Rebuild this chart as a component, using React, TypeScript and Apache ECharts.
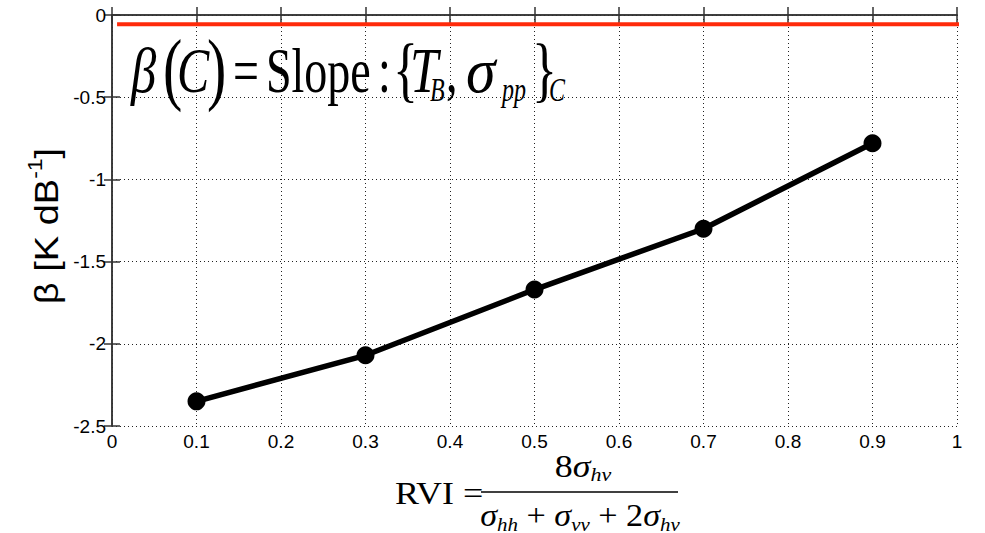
import React, { useEffect, useRef } from 'react';
import * as echarts from 'echarts';

// Data
const rviValues = [0.1, 0.3, 0.5, 0.7, 0.9];
const betaValues = [-2.35, -2.07, -1.67, -1.3, -0.78];
const referenceLineX = [0.006, 1.04];
const referenceLineY = [-0.057, -0.057];

const SANS = 'Liberation Sans, Arial, sans-serif';
const SERIF = 'Liberation Serif, Times New Roman, serif';

function piece(x: number, y: number, text: string, size: number, italic: boolean, scaleY: number, scaleX = 1): any {
  return {
    type: 'text',
    x,
    y,
    scaleX,
    scaleY,
    z: 10,
    style: {
      text,
      fontFamily: SERIF,
      fontStyle: italic ? 'italic' : 'normal',
      fontSize: size,
      fill: '#000',
      align: 'left',
      verticalAlign: 'middle',
    },
  };
}

export default function App() {
  const ref = useRef<HTMLDivElement>(null);

  useEffect(() => {
    document.body.style.margin = '0';
    const chart = echarts.init(ref.current!, null, { renderer: 'svg' });

    // Top formula: beta(C) = Slope : {T_B, sigma_pp}_C
    const ty = 70;
    const sy = 1.4;
    const subY = ty + 19;
    const topFormula = [
      piece(131, ty, 'β', 46, true, sy, 1.1),
      piece(163, 67, '(', 58, false, sy),
      piece(177, ty, 'C', 46, true, sy, 1.05),
      piece(207, 67, ')', 58, false, sy),
      piece(233, ty, '=', 46, false, sy),
      piece(266, ty, 'Slope', 46, false, sy),
      piece(378, ty, ':', 46, false, sy),
      piece(393, 69, '{', 52, false, sy),
      piece(410, ty, 'T', 46, true, sy, 1.1),
      piece(430, subY, 'B', 24, true, sy),
      piece(446, ty, ',', 46, false, sy),
      piece(466, ty, 'σ', 46, true, sy, 1.3),
      piece(502, subY, 'pp', 24, true, sy),
      piece(532, 69, '}', 52, false, sy),
      piece(549, subY, 'C', 24, true, sy),
    ];

    const fracSize = 36;
    const fsy = 0.85;
    const fracRich: any = {
      i: { fontFamily: SERIF, fontStyle: 'italic', fontSize: fracSize, lineHeight: 40, verticalAlign: 'middle', color: '#000' },
      n: { fontFamily: SERIF, fontSize: fracSize, lineHeight: 40, verticalAlign: 'middle', color: '#000' },
      s: { fontFamily: SERIF, fontStyle: 'italic', fontSize: 22, lineHeight: 22, padding: [20, 0, 0, 0], verticalAlign: 'middle', color: '#000' },
    };

    const axisCommon = {
      axisLine: { show: true, lineStyle: { color: '#333', width: 1.5 } },
      axisTick: { show: true, inside: true, length: 8, lineStyle: { color: '#333', width: 1.5 } },
    };

    const option: any = {
      animation: false,
      backgroundColor: '#fff',
      grid: { left: 112, right: 28, top: 15, bottom: 107, containLabel: false },
      xAxis: [
        {
          type: 'value',
          min: 0,
          max: 1,
          interval: 0.1,
          position: 'bottom',
          ...axisCommon,
          axisLabel: { color: '#000', fontFamily: SANS, fontSize: 19, margin: 6 },
          splitLine: { show: true, lineStyle: { color: '#222', type: [1, 3], width: 1 } },
        },
        {
          type: 'value',
          min: 0,
          max: 1,
          interval: 0.1,
          position: 'top',
          ...axisCommon,
          axisLabel: { show: false },
          splitLine: { show: false },
        },
      ],
      yAxis: [
        {
          type: 'value',
          min: -2.5,
          max: 0,
          interval: 0.5,
          position: 'left',
          ...axisCommon,
          axisLabel: { color: '#000', fontFamily: SANS, fontSize: 19, margin: 6 },
          splitLine: { show: true, lineStyle: { color: '#222', type: [1, 3], width: 1 } },
        },
        {
          type: 'value',
          min: -2.5,
          max: 0,
          interval: 0.5,
          position: 'right',
          ...axisCommon,
          axisLabel: { show: false },
          splitLine: { show: false },
        },
      ],
      series: [
        {
          type: 'line',
          name: 'beta',
          xAxisIndex: 0,
          yAxisIndex: 0,
          data: rviValues.map((x, i) => [x, betaValues[i]]),
          lineStyle: { color: '#000', width: 5.5 },
          itemStyle: { color: '#000' },
          symbol: 'circle',
          symbolSize: 18,
          z: 3,
        },
        {
          type: 'line',
          name: 'reference',
          xAxisIndex: 0,
          yAxisIndex: 0,
          data: referenceLineX.map((x, i) => [x, referenceLineY[i]]),
          lineStyle: { color: '#ff2a0a', width: 4 },
          symbol: 'none',
          clip: false,
          z: 4,
        },
      ],
      graphic: [
        ...topFormula,
        {
          type: 'text',
          x: 47,
          y: 226,
          rotation: Math.PI / 2,
          scaleY: 0.88,
          z: 10,
          style: {
            text: '{n|β [K dB}{sup|-1}{n|]}',
            align: 'center',
            verticalAlign: 'middle',
            rich: {
              n: { fontFamily: SANS, fontSize: 38, lineHeight: 44, verticalAlign: 'middle', color: '#000' },
              sup: { fontFamily: SANS, fontSize: 23, lineHeight: 23, padding: [0, 0, 28, 0], verticalAlign: 'middle', color: '#000' },
            },
          },
        },
        {
          type: 'text',
          x: 395,
          y: 493,
          scaleY: fsy,
          z: 10,
          style: {
            text: 'RVI =',
            fontFamily: SERIF,
            fontSize: fracSize,
            fill: '#000',
            align: 'left',
            verticalAlign: 'middle',
          },
        },
        {
          type: 'line',
          z: 10,
          shape: { x1: 481, y1: 492, x2: 678, y2: 492 },
          style: { stroke: '#000', lineWidth: 1.5 },
        },
        {
          type: 'text',
          x: 583,
          y: 466,
          scaleY: fsy,
          z: 10,
          style: {
            text: '{n|8}{i|σ}{s|hv}',
            rich: fracRich,
            align: 'center',
            verticalAlign: 'middle',
          },
        },
        {
          type: 'text',
          x: 580,
          y: 516,
          scaleX: 0.95,
          scaleY: fsy,
          z: 10,
          style: {
            text: '{i|σ}{s|hh}{n| + }{i|σ}{s|vv}{n| + 2}{i|σ}{s|hv}',
            rich: fracRich,
            align: 'center',
            verticalAlign: 'middle',
          },
        },
      ],
    };

    chart.setOption(option);
    return () => chart.dispose();
  }, []);

  return <div ref={ref} style={{ width: 985, height: 533 }} />;
}
